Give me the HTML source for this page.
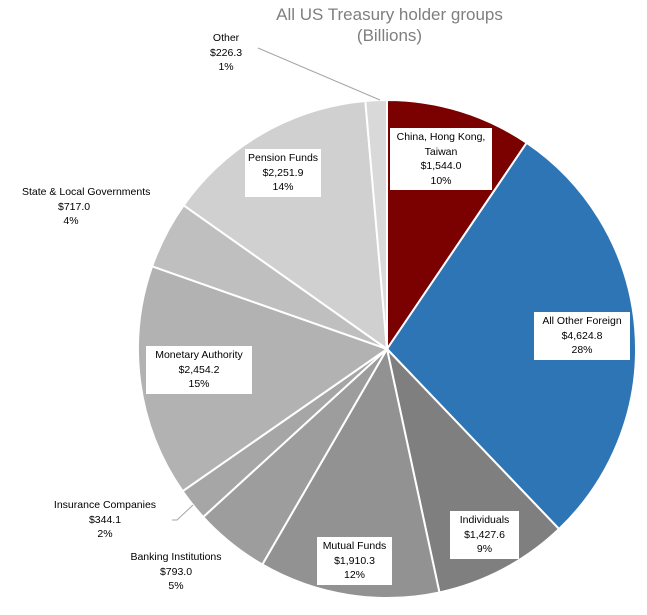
<!DOCTYPE html>
<html><head><style>
body{margin:0;background:#fff;width:647px;height:615px;overflow:hidden;position:relative;font-family:"Liberation Sans",sans-serif}
.t{position:absolute;width:647px;left:0;text-align:center;color:#7f7f7f;font-size:17px;line-height:21px}
.l{position:absolute;font-size:10.5px;line-height:14.5px;text-align:center;color:#000;white-space:nowrap}
.b{background:#fff;padding:2px 3px}
</style></head><body>
<svg id="s" width="647" height="615" style="position:absolute;left:0;top:0"></svg>
<div class="t" style="top:4px;left:66px">All US Treasury holder groups<br>(Billions)</div>
<div class="l" style="left:210px;top:31px">Other<br>$226.3<br>1%</div>
<div class="l b" style="left:390px;top:128px;width:96px">China, Hong Kong,<br>Taiwan<br>$1,544.0<br>10%</div>
<div class="l b" style="left:245px;top:149px;width:70px">Pension Funds<br>$2,251.9<br>14%</div>
<div class="l" style="left:22px;top:185px">State &amp; Local Governments</div>
<div class="l" style="left:58px;top:199.5px;width:26px">$717.0<br>4%</div>
<div class="l b" style="left:534px;top:312px;width:90px">All Other Foreign<br>$4,624.8<br>28%</div>
<div class="l b" style="left:146px;top:346px;width:100px">Monetary Authority<br>$2,454.2<br>15%</div>
<div class="l" style="left:50px;top:498px;width:110px">Insurance Companies<br>$344.1<br>2%</div>
<div class="l" style="left:121px;top:550px;width:110px">Banking Institutions<br>$793.0<br>5%</div>
<div class="l b" style="left:450px;top:511px;width:63px">Individuals<br>$1,427.6<br>9%</div>
<div class="l b" style="left:317px;top:537px;width:69px">Mutual Funds<br>$1,910.3<br>12%</div>
<script>
var d=[[1544,'#7b0000'],[4624.8,'#2e75b6'],[1427.6,'#7f7f7f'],[1910.3,'#929292'],[793,'#9d9d9d'],[344.1,'#a6a6a6'],[2454.2,'#b2b2b2'],[717,'#bfbfbf'],[2251.9,'#d0d0d0'],[226.3,'#d9d9d9']];
var tot=0;d.forEach(function(x){tot+=x[0]});
var cx=387,cy=349,r=249,a=0,h='';
d.forEach(function(x){var a2=a+x[0]/tot*2*Math.PI;
var x1=cx+r*Math.sin(a),y1=cy-r*Math.cos(a),x2=cx+r*Math.sin(a2),y2=cy-r*Math.cos(a2);
h+='<path d="M'+cx+' '+cy+'L'+x1+' '+y1+'A'+r+' '+r+' 0 '+(a2-a>Math.PI?1:0)+' 1 '+x2+' '+y2+'Z" fill="'+x[1]+'" stroke="#fff" stroke-width="2"/>';a=a2;});
h+='<polyline points="258,48 380,100" stroke="#a6a6a6" fill="none"/>';
h+='<polyline points="172,520 177,520 193,505" stroke="#a6a6a6" fill="none"/>';
document.getElementById('s').innerHTML=h;
</script>
</body></html>
